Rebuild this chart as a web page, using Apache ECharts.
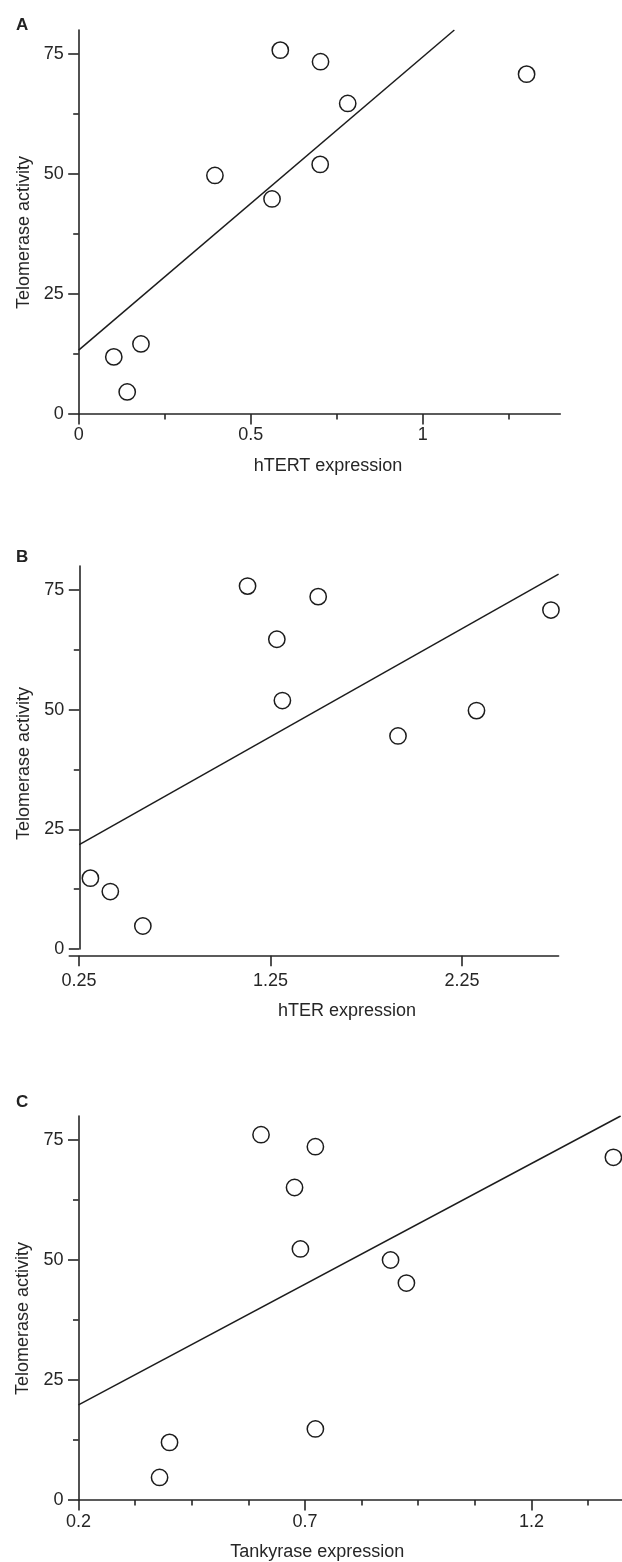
<!DOCTYPE html>
<html><head><meta charset="utf-8">
<script src="https://cdn.jsdelivr.net/npm/echarts@6/dist/echarts.min.js"></script>
<style>html,body{margin:0;padding:0;background:#fff}#c{width:622px;height:1562px}</style>
</head><body><div id="c"></div>
<script>
// ---- data ----
const hTERT = [0.586, 0.703, 1.302, 0.782, 0.396, 0.702, 0.562, 0.181, 0.102, 0.141];
const activityA = [75.8, 73.4, 70.8, 64.7, 49.7, 52.0, 44.8, 14.6, 11.9, 4.6];
const fitAx = [0, 1.092];
const fitAy = [13.3, 80];

const hTER = [1.129, 1.498, 2.714, 1.282, 1.311, 2.325, 1.915, 0.308, 0.412, 0.582];
const activityB = [75.8, 73.6, 70.8, 64.7, 51.9, 49.8, 44.5, 14.8, 12.0, 4.8];
const fitBx = [0.25, 2.754];
const fitBy = [21.8, 78.3];

const tankyrase = [0.603, 0.723, 1.381, 0.677, 0.690, 0.889, 0.924, 0.723, 0.401, 0.379];
const activityC = [76.1, 73.6, 71.4, 65.1, 52.3, 50.0, 45.2, 14.8, 12.0, 4.7];
const fitCx = [0.2, 1.397];
const fitCy = [19.8, 80];

// tick values
const yMajor = [0, 25, 50, 75];
const yMinor = [12.5, 37.5, 62.5];
const aMajor = [0, 0.5, 1];
const aMinor = [0.25, 0.75, 1.25];
const bMajor = [0.25, 1.25, 2.25];
const cMajor = [0.2, 0.7, 1.2];
const cMinor = [0.325, 0.45, 0.575, 0.825, 0.95, 1.075, 1.325];

const panelLetters = ['A', 'B', 'C'];
const xNames = ['hTERT expression', 'hTER expression', 'Tankyrase expression'];
const yName = 'Telomerase activity';

// ---- styles ----
const FONT = "'Liberation Sans', Arial, Helvetica, sans-serif";
const INK = '#262626';
const lineSt = { color: INK, width: 1.6 };
const labelSt = { fontSize: 18, color: INK, fontFamily: FONT };

function pairs(xs, ys) { return xs.map((x, i) => [x, ys[i]]); }

function majorX(grid, min, max, ticks, name, gap, pad, margin) {
  return {
    type: 'value', gridIndex: grid, position: 'bottom', min: min, max: max,
    axisLine: { show: true, onZero: false, lineStyle: lineSt },
    axisTick: { show: true, inside: false, length: 10.5, lineStyle: lineSt, customValues: ticks },
    axisLabel: Object.assign({ show: true, margin: margin, customValues: ticks }, labelSt),
    splitLine: { show: false },
    name: name, nameLocation: 'middle', nameGap: gap,
    nameTextStyle: { fontSize: 18, color: INK, fontFamily: FONT, padding: pad }
  };
}
function minorX(grid, min, max, ticks) {
  return {
    type: 'value', gridIndex: grid, position: 'bottom', min: min, max: max,
    axisLine: { show: false, onZero: false },
    axisTick: { show: true, length: 5.5, lineStyle: lineSt, customValues: ticks },
    axisLabel: { show: false }, splitLine: { show: false }
  };
}
function hiddenX(grid, min, max) {
  return { type: 'value', gridIndex: grid, min: min, max: max, show: false, splitLine: { show: false } };
}
function majorY(grid, pad) {
  return {
    type: 'value', gridIndex: grid, position: 'left', min: 0, max: 80,
    axisLine: { show: true, onZero: false, lineStyle: lineSt },
    axisTick: { show: true, length: 10.5, lineStyle: lineSt, customValues: yMajor },
    axisLabel: Object.assign({ show: true, margin: 15, customValues: yMajor }, labelSt),
    splitLine: { show: false },
    name: yName, nameLocation: 'middle', nameGap: 46,
    nameTextStyle: { fontSize: 18, color: INK, fontFamily: FONT, padding: pad }
  };
}
function minorY(grid) {
  return {
    type: 'value', gridIndex: grid, position: 'left', min: 0, max: 80,
    axisLine: { show: false, onZero: false },
    axisTick: { show: true, length: 5.5, lineStyle: lineSt, customValues: yMinor },
    axisLabel: { show: false }, splitLine: { show: false }
  };
}
function hiddenY(grid) {
  return { type: 'value', gridIndex: grid, min: 0, max: 80, show: false, splitLine: { show: false } };
}

const scatterStyle = {
  type: 'scatter', symbol: 'circle', symbolSize: 16.3, z: 5,
  itemStyle: { color: '#ffffff', borderColor: '#1c1c1c', borderWidth: 1.5, opacity: 1 },
  emphasis: { disabled: true }, silent: true
};
const fitStyle = {
  type: 'line', symbol: 'none', z: 3, silent: true,
  lineStyle: { color: '#1c1c1c', width: 1.5 }
};

const option = {
  animation: false,
  backgroundColor: '#ffffff',
  title: [
    { text: panelLetters[0], left: 16, top: 17 },
    { text: panelLetters[1], left: 16, top: 549 },
    { text: panelLetters[2], left: 16, top: 1094 }
  ].map(t => Object.assign(t, { padding: 0, textStyle: { fontSize: 17, fontWeight: 'bold', color: '#222', fontFamily: FONT } })),
  grid: [
    { left: 78.7, top: 30, width: 481.6, height: 384 },       // 0: A
    { left: 79.3, top: 566, width: 479.3, height: 383 },      // 1: B data + y axis
    { left: 69.3, top: 566, width: 489.3, height: 389.7 },    // 2: B x axis (detached)
    { left: 78.5, top: 1116, width: 544.8, height: 384 }      // 3: C
  ],
  xAxis: [
    majorX(0, 0, 1.4, aMajor, xNames[0], 43, [0, 0, 0, 17], 12),      // 0
    minorX(0, 0, 1.4, aMinor),                                        // 1
    hiddenX(1, 0.25, 2.754),                                          // 2
    majorX(2, 0.199, 2.754, bMajor, xNames[1], 46, [0, 0, 0, 66], 16),// 3
    majorX(3, 0.2, 1.4, cMajor, xNames[2], 43, [0, 66, 0, 0], 13.5),  // 4
    minorX(3, 0.2, 1.4, cMinor)                                       // 5
  ],
  yAxis: [
    majorY(0, [0, 21, 0, 0]),  // 0
    minorY(0),                 // 1
    majorY(1, [0, 12, 0, 0]),  // 2
    minorY(1),                 // 3
    hiddenY(2),                // 4
    majorY(3, [0, 21, 0, 0]),  // 5
    minorY(3)                  // 6
  ],
  series: [
    Object.assign({}, fitStyle, { xAxisIndex: 0, yAxisIndex: 0, data: pairs(fitAx, fitAy) }),
    Object.assign({}, scatterStyle, { xAxisIndex: 0, yAxisIndex: 0, data: pairs(hTERT, activityA) }),
    Object.assign({}, fitStyle, { xAxisIndex: 2, yAxisIndex: 2, data: pairs(fitBx, fitBy) }),
    Object.assign({}, scatterStyle, { xAxisIndex: 2, yAxisIndex: 2, data: pairs(hTER, activityB) }),
    Object.assign({}, fitStyle, { xAxisIndex: 4, yAxisIndex: 5, data: pairs(fitCx, fitCy) }),
    Object.assign({}, scatterStyle, { xAxisIndex: 4, yAxisIndex: 5, data: pairs(tankyrase, activityC) })
  ]
};

const chart = echarts.init(document.getElementById('c'), null, { renderer: 'canvas' });
chart.setOption(option);
</script>
</body></html>
